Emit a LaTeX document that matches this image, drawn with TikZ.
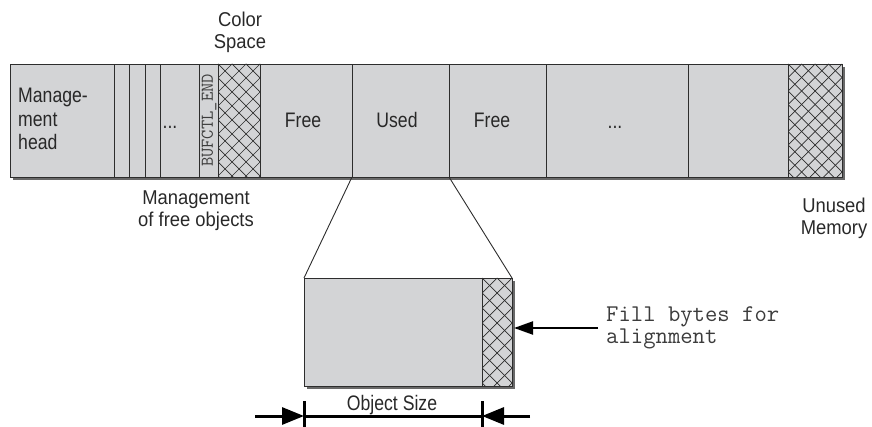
\documentclass[tikz,border=0pt]{standalone}
\usepackage{fontspec}
\setmainfont{Liberation Sans}
\newfontfamily\barfont[FakeStretch=0.84]{Liberation Sans}
\newfontfamily\lblfont[FakeStretch=0.92]{Liberation Sans}
\usetikzlibrary{arrows.meta,calc}
\definecolor{cellgray}{RGB}{211,212,214}
\definecolor{shadowgray}{RGB}{105,105,105}
\definecolor{linecol}{RGB}{45,45,45}
\definecolor{txtcol}{RGB}{40,40,40}
\definecolor{codecol}{RGB}{60,60,60}
\tikzset{
  cell/.style={draw=linecol, line width=0.9pt, fill=cellgray, inner sep=0pt, outer sep=0pt, anchor=north west},
  barcell/.style={cell, minimum height=113pt},
  hatchline/.style={draw=linecol, line width=0.7pt},
  hatched/.style={path picture={
      \foreach \i in {-12,...,16}{
        \draw[hatchline] ($(path picture bounding box.north west)+(\i*#1 pt,0pt)$) -- ++(140pt,-140pt);
        \draw[hatchline] ($(path picture bounding box.north west)+(\i*#1 pt,0pt)$) -- ++(-140pt,-140pt);
      }}},
  btxt/.style={text=txtcol, inner sep=0pt, font=\barfont\fontsize{21}{23.5}\selectfont},
  lbl/.style={text=txtcol, inner sep=0pt, align=center, font=\lblfont\fontsize{20}{22.5}\selectfont},
  code/.style={text=codecol, inner sep=0pt, font=\ttfamily\fontsize{24}{22}\selectfont},
  dimline/.style={draw=black, line width=3pt},
  thinline/.style={draw=linecol, line width=0.9pt}
}
\begin{document}
\begin{tikzpicture}[x=1pt,y=-1pt]
\useasboundingbox (0,0) rectangle (872,427);

% shadow of the bar
\fill[shadowgray] (13,67) rectangle (845,180);

% cells of the bar
\node[barcell, minimum width=104pt] (head) at (10,64) {};
\node[barcell, minimum width=15pt] (fo1) at (114,64) {};
\node[barcell, minimum width=16pt] (fo2) at (129,64) {};
\node[barcell, minimum width=15pt] (fo3) at (145,64) {};
\node[barcell, minimum width=39pt] (fodots) at (160,64) {};
\node[barcell, minimum width=19pt] (buf) at (199,64) {};
\node[barcell, minimum width=42pt, hatched=14] (color) at (218,64) {};
\node[barcell, minimum width=92pt] (free1) at (260,64) {};
\node[barcell, minimum width=97pt] (used) at (352,64) {};
\node[barcell, minimum width=97pt] (free2) at (449,64) {};
\node[barcell, minimum width=142pt] (dots) at (546,64) {};
\node[barcell, minimum width=100pt] (last) at (688,64) {};
\node[barcell, minimum width=54pt, hatched=13.5] (unused) at (788,64) {};

% texts in the bar
\node[btxt, anchor=base west, align=left] (headtxt) at (18,150) {Manage-\\ment\\head};
\node[btxt, anchor=base] (fodotstxt) at (170,129) {...};
\node[rotate=90, text=codecol, inner sep=0pt, font=\ttfamily\fontsize{18}{18}\selectfont] (buftxt) at (209,120.5) {BUFCTL\_END};
\node[btxt, anchor=base] (free1txt) at (303,128) {Free};
\node[btxt, anchor=base] (usedtxt) at (397,128) {Used};
\node[btxt, anchor=base] (free2txt) at (492,128) {Free};
\node[btxt, anchor=base] (dotstxt) at (615,129) {...};

% labels around the bar
\node[lbl, anchor=base] (colorlbl) at (240,49) {Color\\Space};
\node[lbl, anchor=base] (mgmtlbl) at (196,227) {Management\\of free objects};
\node[lbl, anchor=base] (unusedlbl) at (834,235) {Unused\\Memory};

% enlarged object
\fill[shadowgray] (307,281) rectangle (515,389);
\node[cell, minimum width=178pt, minimum height=108pt] (obj) at (304,278) {};
\node[cell, minimum width=30pt, minimum height=108pt, hatched=15] (fill) at (482,278) {};

% zoom connectors
\draw[thinline] (used.south west) -- (obj.north west);
\draw[thinline] (used.south east) -- (fill.north east);

% dimension
\coordinate (dimL) at (255,416);
\coordinate (dimR) at (530,416);
\draw[dimline] ($(obj.south west)+(0,15)$) -- ++(0,26);
\draw[dimline] ($(obj.south east)+(0,15)$) -- ++(0,26);
\draw[dimline] (obj.south west |- dimL) -- (obj.south east |- dimL);
\draw[dimline, -{Triangle[length=22pt,width=17pt]}] (dimL) -- (obj.south west |- dimL);
\draw[dimline, -{Triangle[length=22pt,width=17pt]}] (dimR) -- (obj.south east |- dimR);
\node[btxt, anchor=base] (sizetxt) at (392,410) {Object Size};

% fill bytes
\coordinate (fillA) at (598,328);
\draw[line width=2.2pt, -{Triangle[length=19pt,width=13pt]}] (fillA) -- ($(fill.east |- fillA)+(2,0)$);
\node[code, anchor=base west, align=left] (filltxt) at (606,343) {Fill bytes for\\alignment};
\end{tikzpicture}
\end{document}
